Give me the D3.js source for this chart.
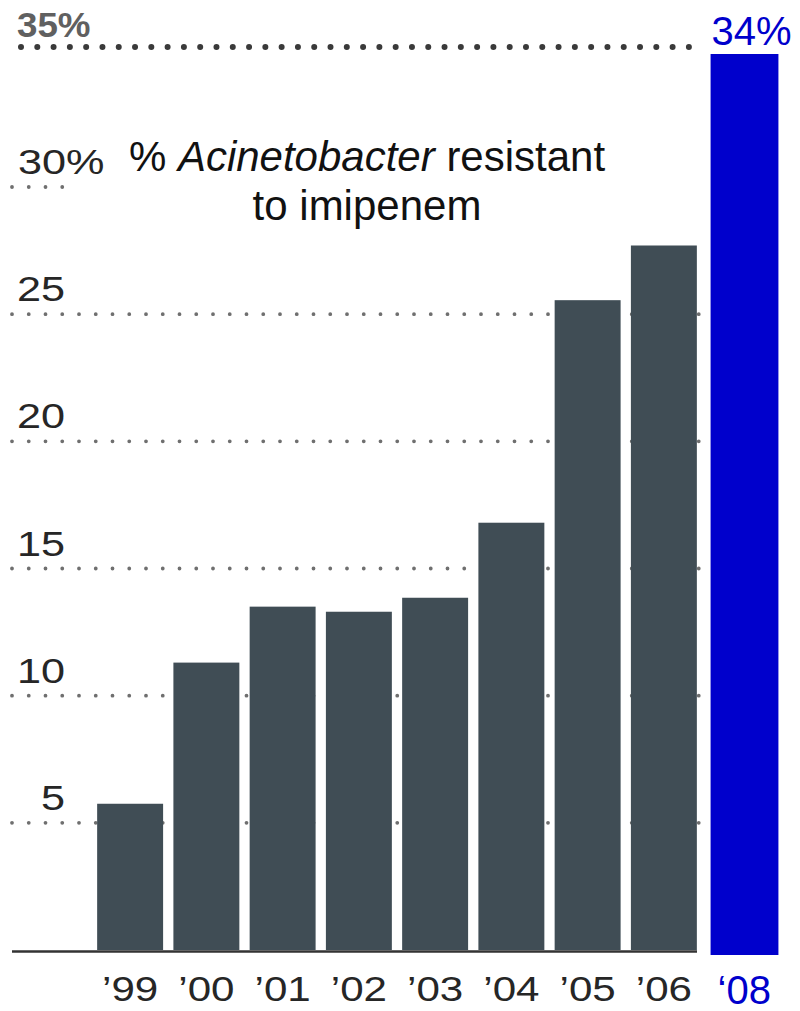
<!DOCTYPE html>
<html>
<head>
<meta charset="utf-8">
<script src="https://cdn.jsdelivr.net/npm/d3@7"></script>
<style>
  html, body { margin: 0; padding: 0; background: #fff; }
  svg { display: block; }
</style>
</head>
<body>
<svg id="chart" width="800" height="1011"></svg>
<script>
// Imipenem resistance in Acinetobacter, by year
const years = ["\u201999", "\u201900", "\u201901", "\u201902", "\u201903", "\u201904", "\u201905", "\u201906"];
const resistance = [5.75, 11.3, 13.5, 13.3, 13.85, 16.8, 25.55, 27.7];

// Later figure added beside the original series
const laterYear = ["\u201808"];
const laterValue = [34];

// Axis ticks
const tickValues = [5, 10, 15, 20, 25, 30];
const referenceLevel = [35];

const svg = d3.select("#chart");

const y = d3.scaleLinear().domain([0, 30]).range([950, 187]);
const x = d3.scaleBand().domain(years).range([92, 702]).paddingInner(0.135).paddingOuter(0.0675);
const xLater = d3.scaleBand().domain(laterYear).range([706, 783]).paddingInner(0).paddingOuter(0.0675);
const yLater = d3.scaleLinear().domain([0, 34]).range([955, 54]);

const wide = "Liberation Sans, Arial, Helvetica, sans-serif";

// Dotted gridlines
svg.append("g")
  .selectAll("line")
  .data(tickValues)
  .join("line")
  .attr("x1", 12)
  .attr("x2", 700)
  .attr("y1", d => y(d))
  .attr("y2", d => y(d))
  .attr("stroke", "#6f6f6f")
  .attr("stroke-width", 3.8)
  .attr("stroke-linecap", "round")
  .attr("stroke-dasharray", "0 16.75");

// White backdrop behind the title
svg.append("rect")
  .attr("x", 68).attr("y", 118)
  .attr("width", 638).attr("height", 122)
  .attr("fill", "#fff");

// Tick labels (wide-set face)
svg.append("g")
  .selectAll("text")
  .data(tickValues)
  .join("text")
  .attr("transform", d => `translate(${d === 30 ? 18 : 65},${y(d) - 13}) scale(1.2,1)`)
  .attr("text-anchor", d => d === 30 ? "start" : "end")
  .attr("font-family", wide)
  .attr("font-size", 36)
  .attr("fill", "#262626")
  .text(d => d === 30 ? "30%" : d);

// Bars
svg.append("g")
  .selectAll("rect")
  .data(resistance)
  .join("rect")
  .attr("x", (d, i) => x(years[i]))
  .attr("width", x.bandwidth())
  .attr("y", d => y(d))
  .attr("height", d => y(0) - y(d))
  .attr("fill", "#404d55");

// Baseline
svg.append("line")
  .attr("x1", 12).attr("x2", 697)
  .attr("y1", y(0) + 1.5).attr("y2", y(0) + 1.5)
  .attr("stroke", "#333")
  .attr("stroke-width", 2.5);

// Year labels
svg.append("g")
  .selectAll("text")
  .data(years)
  .join("text")
  .attr("transform", d => `translate(${x(d) + x.bandwidth() / 2},1001) scale(1.17,1)`)
  .attr("text-anchor", "middle")
  .attr("font-family", wide)
  .attr("font-size", 36)
  .attr("fill", "#262626")
  .text(d => d);

// Title
const title = svg.append("text")
  .attr("x", 367)
  .attr("y", 171)
  .attr("text-anchor", "middle")
  .attr("font-family", wide)
  .attr("font-size", 42)
  .attr("fill", "#111");
title.append("tspan").text("% ");
title.append("tspan").attr("font-style", "italic").text("Acinetobacter");
title.append("tspan").text(" resistant");
svg.append("text")
  .attr("x", 367)
  .attr("y", 220)
  .attr("text-anchor", "middle")
  .attr("font-family", wide)
  .attr("font-size", 42)
  .attr("fill", "#111")
  .text("to imipenem");

// Later bar
svg.append("g")
  .selectAll("rect")
  .data(laterValue)
  .join("rect")
  .attr("x", (d, i) => xLater(laterYear[i]))
  .attr("width", xLater.bandwidth())
  .attr("y", d => yLater(d))
  .attr("height", d => yLater(0) - yLater(d))
  .attr("fill", "#0000cc");

svg.append("g")
  .selectAll("text")
  .data(laterValue)
  .join("text")
  .attr("x", (d, i) => xLater(laterYear[i]) + 1)
  .attr("y", d => yLater(d) - 9)
  .attr("font-family", wide)
  .attr("font-size", 40)
  .attr("fill", "#0000cc")
  .text(d => d + "%");

svg.append("g")
  .selectAll("text")
  .data(laterYear)
  .join("text")
  .attr("x", d => xLater(d) + 7)
  .attr("y", 1004)
  .attr("font-family", wide)
  .attr("font-size", 40)
  .attr("fill", "#0000cc")
  .text(d => d);

// 35% reference line, set just above the later bar's top
const refY = yLater(laterValue[0]) - 7;
svg.append("g")
  .selectAll("line")
  .data(referenceLevel)
  .join("line")
  .attr("x1", 21).attr("x2", 689)
  .attr("y1", refY).attr("y2", refY)
  .attr("stroke", "#3a3a3a")
  .attr("stroke-width", 6)
  .attr("stroke-linecap", "round")
  .attr("stroke-dasharray", "0 16.29");

svg.append("g")
  .selectAll("text")
  .data(referenceLevel)
  .join("text")
  .attr("transform", d => `translate(17,${refY - 10}) scale(1.05,1)`)
  .attr("font-family", wide)
  .attr("font-weight", "bold")
  .attr("font-size", 35)
  .attr("fill", "#606060")
  .text(d => d + "%");
</script>
</body>
</html>
